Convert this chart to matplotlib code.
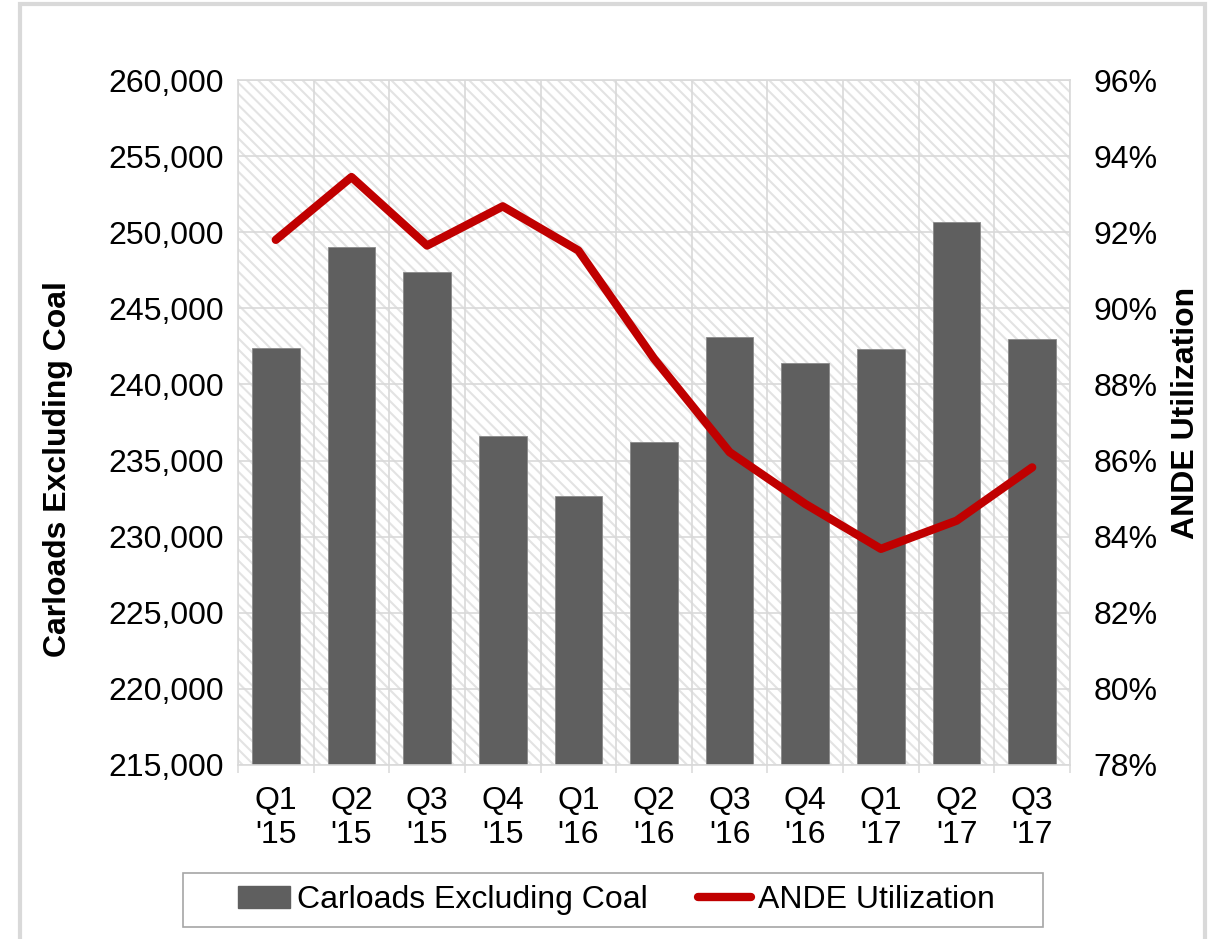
import matplotlib.pyplot as plt
import matplotlib.patches as mpatches
from matplotlib.lines import Line2D
from matplotlib.ticker import FuncFormatter, FixedLocator
import numpy as np

plt.rcParams["font.family"] = ["Liberation Sans", "DejaVu Sans"]
plt.rcParams["hatch.linewidth"] = 1.5
plt.rcParams["hatch.color"] = "#e3e3e3"

quarters = ["Q1\n'15", "Q2\n'15", "Q3\n'15", "Q4\n'15", "Q1\n'16", "Q2\n'16",
            "Q3\n'16", "Q4\n'16", "Q1\n'17", "Q2\n'17", "Q3\n'17"]
carloads = [242400, 249000, 247400, 236600, 232700, 236200,
            243100, 241400, 242300, 250700, 243000]
utilization = [0.918, 0.9345, 0.9165, 0.9268, 0.9152, 0.8868,
               0.8622, 0.8486, 0.8368, 0.8442, 0.8582]

W, H = 1214, 939
FS = 23
fig = plt.figure(figsize=(W / 100, H / 100), dpi=100)

# outer light gray frame
fig.patches.append(mpatches.Rectangle((20 / W, -0.02), 1185 / W, 1.02 - 4 / H,
                                      transform=fig.transFigure, fill=False,
                                      edgecolor="#d9d9d9", linewidth=3))

ax = fig.add_axes([238 / W, 1 - 765 / H, (1070 - 238) / W, (765 - 80) / H])
x = np.arange(len(quarters))
grid_c = "#d9d9d9"

# hatched plot background
ax.add_patch(mpatches.Rectangle((0, 0), 1, 1, transform=ax.transAxes,
                                facecolor="white", edgecolor="#e3e3e3",
                                hatch="\\\\\\", linewidth=0, zorder=0.1))

ax.bar(x, carloads, width=0.63, color="#5f5f5f", edgecolor="#8a8a8a",
       linewidth=0.6, zorder=2)
ax.set_xlim(-0.5, len(quarters) - 0.5)
ax.set_ylim(215000, 260000)
ax.set_yticks(np.arange(215000, 260001, 5000))
ax.yaxis.set_major_formatter(FuncFormatter(lambda v, p: f"{v:,.0f}"))

ax.xaxis.set_major_locator(FixedLocator(np.arange(-0.5, len(quarters), 1.0)))
ax.xaxis.set_minor_locator(FixedLocator(x))
ax.set_xticklabels([], minor=False)
ax.set_xticklabels(quarters, minor=True, fontsize=FS, linespacing=1.2)
ax.tick_params(axis="x", which="major", length=6, color=grid_c, width=1.1)
ax.tick_params(axis="x", which="minor", length=0, pad=15)
ax.tick_params(axis="y", length=0, labelsize=FS, pad=10)

ax.set_axisbelow(True)
ax.grid(True, axis="y", color=grid_c, linewidth=1.2, zorder=0.5)
ax.grid(True, axis="x", which="major", color=grid_c, linewidth=1.2, zorder=0.5)
for s in ax.spines.values():
    s.set_color(grid_c)
    s.set_linewidth(1.2)

ax2 = ax.twinx()
ax2.plot(x, utilization, color="#c00000", linewidth=6, solid_capstyle="round",
         solid_joinstyle="round", zorder=3)
ax2.set_ylim(0.78, 0.96)
ax2.set_yticks(np.arange(0.78, 0.9601, 0.02))
ax2.yaxis.set_major_formatter(FuncFormatter(lambda v, p: f"{v * 100:.0f}%"))
ax2.tick_params(axis="y", length=0, labelsize=FS, pad=17)
for s in ax2.spines.values():
    s.set_visible(False)

fig.text(58 / W, 1 - 469 / H, "Carloads Excluding Coal", rotation=90,
         fontsize=FS, fontweight="bold", ha="center", va="center")
fig.text(1186 / W, 1 - 413 / H, "ANDE Utilization", rotation=90,
         fontsize=FS, fontweight="bold", ha="center", va="center")

# legend with its own frame
fig.patches.append(mpatches.Rectangle((183 / W, 1 - 927 / H), 860 / W, 54 / H,
                                      transform=fig.transFigure, facecolor="white",
                                      edgecolor="#a6a6a6", linewidth=1.2))
handles = [mpatches.Patch(facecolor="#5f5f5f", edgecolor="#5f5f5f"),
           Line2D([], [], color="#c00000", linewidth=6, solid_capstyle="round")]
fig.legend(handles, ["Carloads Excluding Coal", "ANDE Utilization"],
           loc="center", bbox_to_anchor=(616 / W, 1 - 900 / H), ncol=2,
           frameon=False, fontsize=FS, handlelength=1.65, handletextpad=0.2,
           columnspacing=1.6, borderpad=0.2)

fig.savefig("out.png", dpi=100)
